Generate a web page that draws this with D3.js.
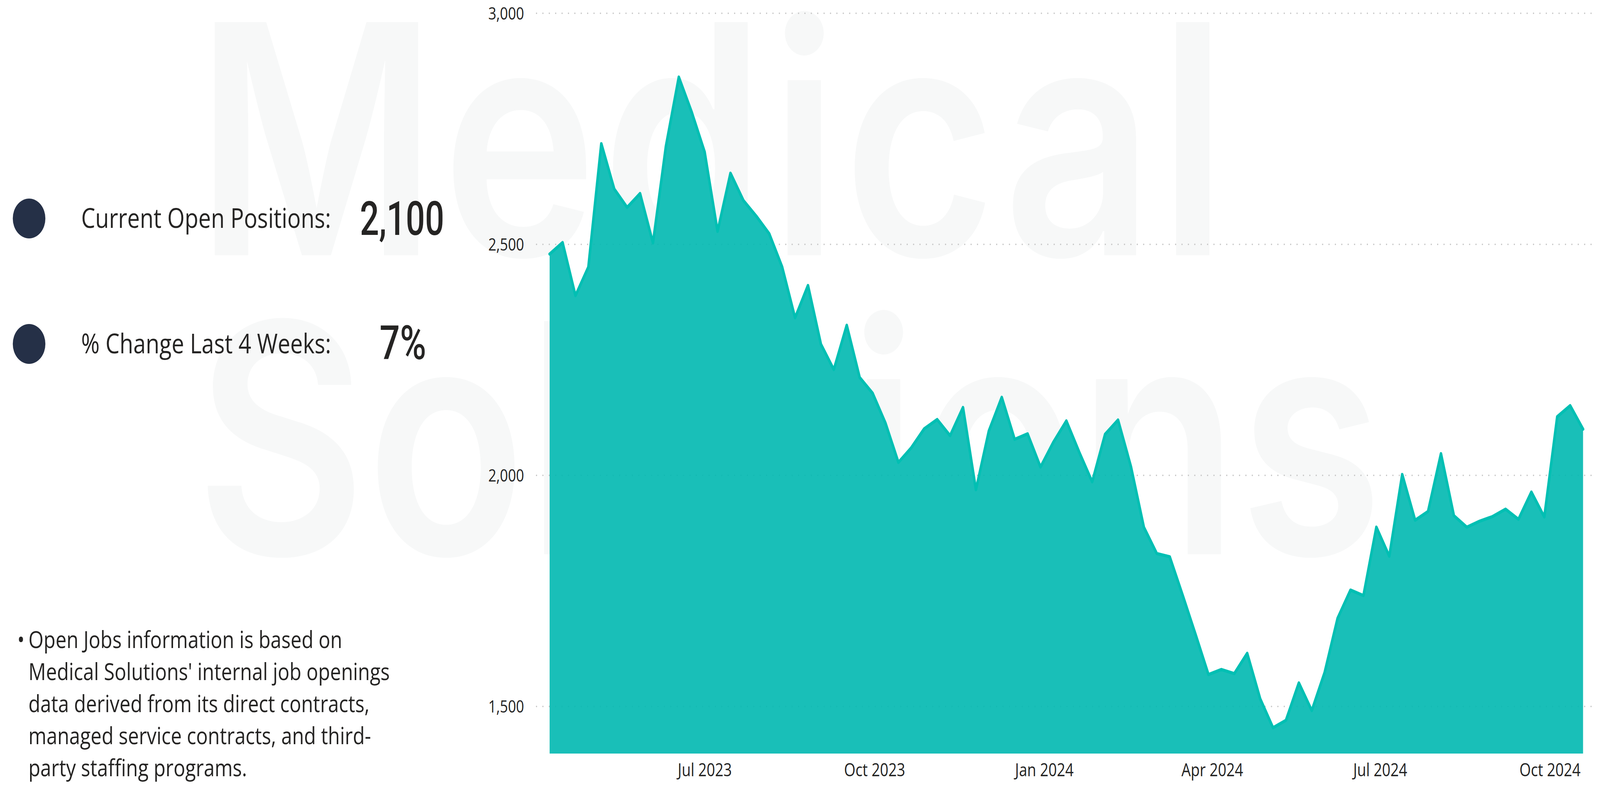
<!DOCTYPE html>
<html>
<head>
<meta charset="utf-8">
<script src="https://cdn.jsdelivr.net/npm/d3@7"></script>
<style>
  html, body { margin: 0; padding: 0; background: #ffffff; width: 100%; height: 100%; overflow: hidden; }
  svg { display: block; width: 100vw; height: 100vh; }
</style>
</head>
<body>
<svg id="chart" viewBox="0 0 5007 2011" preserveAspectRatio="none"></svg>
<script>
// weekly open positions, first week ending 2023-04-08
var startWeek = '2023-04-08';
var openPositions = [
  2479, 2504, 2389, 2451, 2718, 2620, 2580, 2610, 2503, 2712,
  2862, 2786, 2700, 2528, 2654, 2595, 2561, 2523, 2451, 2341,
  2411, 2284, 2229, 2325, 2212, 2178, 2113, 2028, 2060, 2101,
  2121, 2086, 2147, 1969, 2096, 2169, 2078, 2090, 2018, 2072,
  2118, 2050, 1986, 2089, 2120, 2019, 1888, 1831, 1824, 1741,
  1656, 1569, 1580, 1571, 1615, 1517, 1454, 1470, 1551, 1491,
  1574, 1691, 1752, 1740, 1888, 1825, 2002, 1903, 1922, 2047,
  1913, 1888, 1901, 1911, 1927, 1905, 1964, 1910, 2127, 2151,
  2100
];
var yTicks = [1500, 2000, 2500, 3000];
var xTickDates = ['2023-07-01', '2023-10-01', '2024-01-01', '2024-04-01', '2024-07-01', '2024-10-01'];

var kpiLabels = ['Current Open Positions:', '% Change Last 4 Weeks:'];
var kpiValues = ['2,100', '7%'];
var footnoteLines = [
  'Open Jobs information is based on',
  "Medical Solutions' internal job openings",
  'data derived from its direct contracts,',
  'managed service contracts, and third-',
  'party staffing programs.'
];
var watermarkWords = ['Medical', 'Solutions'];

var parseDay = d3.timeParse('%Y-%m-%d');
var t0 = parseDay(startWeek);
var series = openPositions.map(function(v, i) {
  return { date: d3.timeDay.offset(t0, i * 7), value: v };
});

var svg = d3.select('#chart');
var textColor = '#252423';

// watermark (very faint, behind everything)
var wm = svg.append('g').attr('class', 'watermark')
  .style('font-family', 'Inter, "Noto Sans", sans-serif')
  .style('font-weight', 600)
  .style('font-size', '820px')
  .style('fill', '#f7f8f8');
wm.selectAll('text')
  .data(watermarkWords)
  .enter()
  .append('text')
  .attr('x', 612)
  .attr('y', function(d, i) { return i === 0 ? 653 : 1418; })
  .attr('textLength', function(d, i) { return i === 0 ? 3228 : 3716; })
  .attr('lengthAdjust', 'spacing')
  .text(function(d) { return d; });

// scales
var x = d3.scaleTime()
  .domain(d3.extent(series, function(d) { return d.date; }))
  .range([1720, 4954]);

var y = d3.scaleLinear()
  .domain([1398, 3000])
  .range([1928, 34]);

// dotted gridlines
svg.append('g').attr('class', 'grid')
  .selectAll('line')
  .data(yTicks)
  .enter()
  .append('line')
  .attr('x1', 1679)
  .attr('x2', 4995)
  .attr('y1', function(d) { return y(d); })
  .attr('y2', function(d) { return y(d); })
  .style('stroke', '#c6c6c6')
  .style('stroke-width', 4)
  .style('stroke-linecap', 'round')
  .style('stroke-dasharray', '0,20');

// area + line
var area = d3.area()
  .x(function(d) { return x(d.date); })
  .y0(y(1398))
  .y1(function(d) { return y(d.value); });

var line = d3.line()
  .x(function(d) { return x(d.date); })
  .y(function(d) { return y(d.value); });

svg.append('path')
  .datum(series)
  .attr('d', area)
  .style('fill', '#00b8b0')
  .style('fill-opacity', 0.9);

svg.append('path')
  .datum(series)
  .attr('d', line)
  .style('fill', 'none')
  .style('stroke', '#01bfb3')
  .style('stroke-width', 8)
  .style('stroke-linejoin', 'round')
  .style('stroke-linecap', 'round');

// y axis
var yAxis = svg.append('g')
  .attr('transform', 'translate(1640,0)')
  .call(d3.axisLeft(y).tickValues(yTicks).tickSize(0).tickPadding(0).tickFormat(d3.format(',')));
yAxis.select('.domain').remove();
yAxis.selectAll('text')
  .attr('dy', '0.35em')
  .style('font-family', '"Open Sans", sans-serif')
  .style('font-size', '44px')
  .style('fill', '#222');

// x axis
var xAxis = svg.append('g')
  .attr('transform', 'translate(0,1928)')
  .call(d3.axisBottom(x)
    .tickValues(xTickDates.map(parseDay))
    .tickSize(0)
    .tickPadding(25)
    .tickFormat(d3.timeFormat('%b %Y')));
xAxis.select('.domain').remove();
xAxis.selectAll('text')
  .style('font-family', '"Open Sans", sans-serif')
  .style('font-size', '46px')
  .style('fill', '#222');

// kpi panel
var kpiY = [559, 880];
var kpi = svg.append('g').attr('class', 'kpi');
kpi.selectAll('circle')
  .data(kpiLabels)
  .enter()
  .append('circle')
  .attr('cx', 91)
  .attr('cy', function(d, i) { return kpiY[i]; })
  .attr('r', 51)
  .style('fill', '#253047');

kpi.selectAll('text.kpi-label')
  .data(kpiLabels)
  .enter()
  .append('text')
  .attr('class', 'kpi-label')
  .attr('x', 254)
  .attr('y', function(d, i) { return kpiY[i] + 24; })
  .style('font-family', '"Open Sans", sans-serif')
  .style('font-size', '70px')
  .style('fill', textColor)
  .text(function(d) { return d; });

var kpiValueX = [1126, 1188];
var kpiValueW = [264, 146];
kpi.selectAll('text.kpi-value')
  .data(kpiValues)
  .enter()
  .append('text')
  .attr('class', 'kpi-value')
  .attr('x', function(d, i) { return kpiValueX[i]; })
  .attr('y', function(d, i) { return kpiY[i] + (i === 0 ? 42 : 39); })
  .attr('textLength', function(d, i) { return kpiValueW[i]; })
  .attr('lengthAdjust', 'spacingAndGlyphs')
  .style('font-family', 'Roboto, sans-serif')
  .style('font-weight', 500)
  .style('font-size', '120px')
  .style('fill', textColor)
  .text(function(d) { return d; });

// footnote
var note = svg.append('g').attr('class', 'footnote')
  .style('font-family', '"Open Sans", sans-serif')
  .style('font-size', '61px')
  .style('fill', textColor);
note.append('text')
  .attr('x', 54)
  .attr('y', 1658)
  .text('\u2022');
note.selectAll('text.line')
  .data(footnoteLines)
  .enter()
  .append('text')
  .attr('class', 'line')
  .attr('x', 89)
  .attr('y', function(d, i) { return 1658 + i * 82; })
  .text(function(d) { return d; });
</script>
</body>
</html>
